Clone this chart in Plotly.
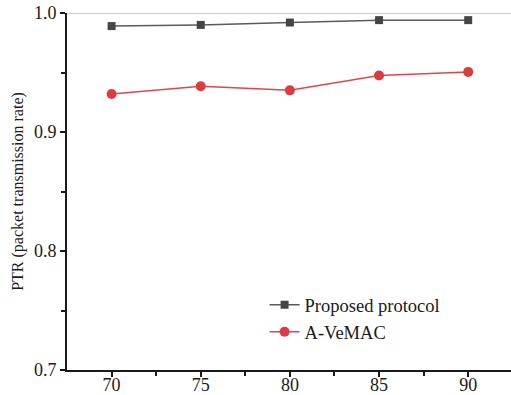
import plotly.graph_objects as go

x_vals = [70, 75, 80, 85, 90]
proposed = [0.989, 0.990, 0.992, 0.994, 0.994]
avemac = [0.932, 0.9385, 0.935, 0.9475, 0.9505]
y_ticks = [0.7, 0.8, 0.9, 1.0]
y_ticktext = ["0.7", "0.8", "0.9", "1.0"]

font = "Liberation Serif, Times New Roman, serif"

fig = go.Figure()
fig.add_trace(go.Scatter(x=x_vals, y=proposed, mode="lines+markers", name="Proposed protocol",
                         line=dict(color="#5a5a5a", width=1.5),
                         marker=dict(symbol="square", size=8, color="#454545")))
fig.add_trace(go.Scatter(x=x_vals, y=avemac, mode="lines+markers", name="A-VeMAC",
                         line=dict(color="#e0474c", width=1.5),
                         marker=dict(symbol="circle", size=10, color="#dc3b41")))

fig.add_shape(type="line", xref="paper", yref="y", x0=0, x1=1, y0=1.0, y1=1.0,
              line=dict(color="#a0a0a0", width=1.2), layer="below")

fig.update_layout(
    width=511, height=395,
    margin=dict(l=67, r=0, t=13, b=25),
    paper_bgcolor="white", plot_bgcolor="white",
    font=dict(family=font, size=18, color="#1a1a1a"),
    showlegend=True,
    legend=dict(x=0.445, y=0.235, xanchor="left", yanchor="top",
                bgcolor="rgba(0,0,0,0)", font=dict(size=18.5, family=font),
                tracegroupgap=2, itemwidth=30),
    xaxis=dict(range=[67.5, 92.4], tickvals=x_vals, ticks="outside", ticklen=5, tickwidth=1.5,
               tickcolor="#1a1a1a", showline=True, linecolor="#1a1a1a", linewidth=1.5,
               showgrid=False, zeroline=False, automargin=False, ticklabelstandoff=-7,
               minor=dict(tickvals=[72.5, 77.5, 82.5, 87.5], ticks="outside", ticklen=4, tickwidth=1.5, tickcolor="#1a1a1a")),
    yaxis=dict(range=[0.7, 1.0], tickvals=y_ticks, ticktext=y_ticktext, ticks="outside", ticklen=5, tickwidth=1.5,
               tickcolor="#1a1a1a", showline=True, linecolor="#1a1a1a", linewidth=2,
               showgrid=False, zeroline=False, automargin=False,
               title=dict(text="PTR (packet transmission rate)", font=dict(size=16, family=font), standoff=6),
               minor=dict(tickvals=[0.75, 0.85, 0.95], ticks="outside", ticklen=4, tickwidth=1.5, tickcolor="#1a1a1a")),
)

fig.write_html("out.html", config={"displayModeBar": False},
               post_script="document.body.style.margin='0';")
